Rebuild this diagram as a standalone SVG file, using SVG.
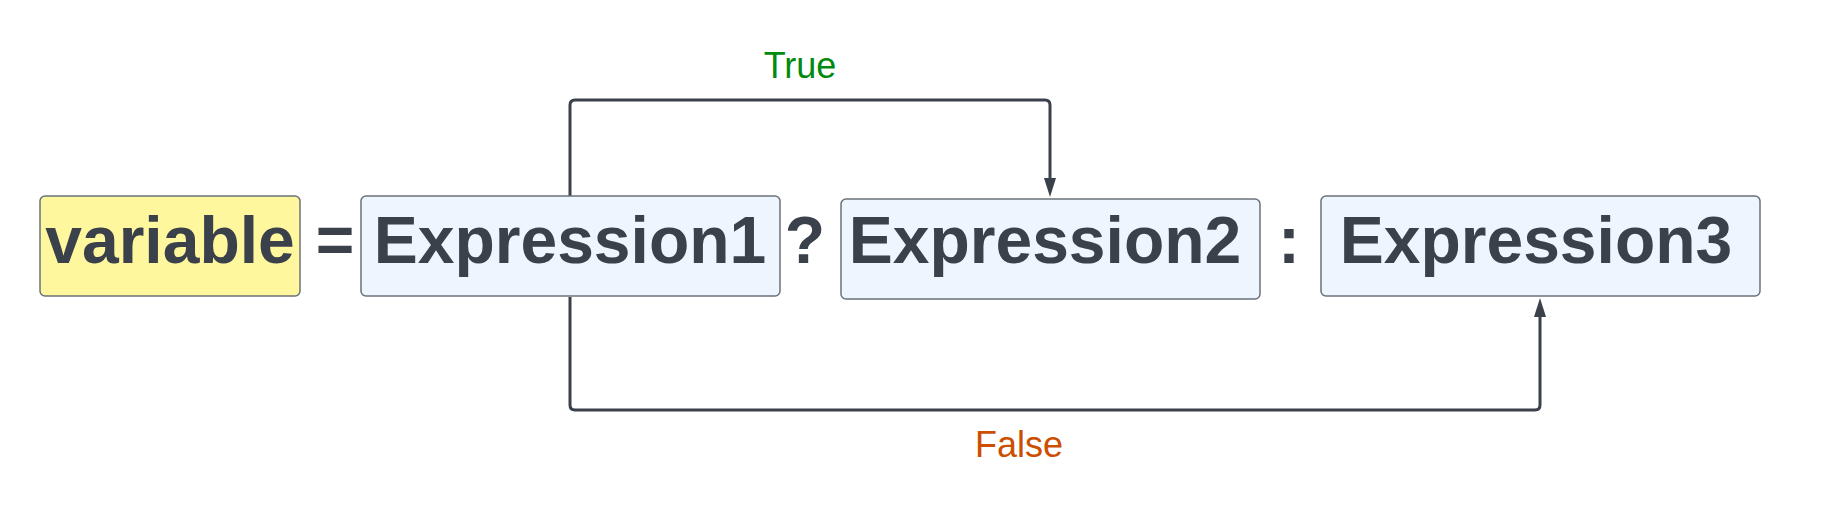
<svg xmlns="http://www.w3.org/2000/svg" width="1840" height="520" viewBox="0 0 1840 520">
<style>
.box{fill:#edf5ff;stroke:#6b717b;stroke-width:1.5}
.yel{fill:#fff79e;stroke:#6b717b;stroke-width:1.5}
.big{font-family:"Liberation Sans",Arial,sans-serif;font-weight:bold;font-size:66px;fill:#3a414a;text-anchor:middle}
.lbl{font-family:"Liberation Sans",Arial,sans-serif;font-size:36px;text-anchor:middle}
.conn{fill:none;stroke:#3a414a;stroke-width:3}
</style>
<defs>
<marker id="arr" viewBox="0 0 19 12" refX="12" refY="6" markerWidth="19" markerHeight="12" markerUnits="userSpaceOnUse" orient="auto">
<polygon points="0,0 19,6 0,12" fill="#3a414a"/>
</marker>
</defs>
<g id="connectors">
<path class="conn" d="M570 196 V105 Q570 100 575 100 H1045 Q1050 100 1050 105 V190" marker-end="url(#arr)"/>
<path class="conn" d="M570 297 V405 Q570 410 575 410 H1535 Q1540 410 1540 405 V305" marker-end="url(#arr)"/>
<text class="lbl" x="800" y="78" fill="#008a0e">True</text>
<text class="lbl" x="1019" y="457" fill="#cc4e00">False</text>
</g>
<g id="variable">
<rect class="yel" x="40" y="196" width="260" height="100" rx="5"/>
<text class="big" x="170" y="263">variable</text>
</g>
<g id="eq"><text class="big" x="335" y="263">=</text></g>
<g id="expression1">
<rect class="box" x="361" y="196" width="419" height="100" rx="5"/>
<text class="big" x="570" y="263">Expression1</text>
</g>
<g id="q"><text class="big" x="805" y="263">?</text></g>
<g id="expression2">
<rect class="box" x="841" y="199" width="419" height="100" rx="5"/>
<text class="big" x="1045" y="263">Expression2</text>
</g>
<g id="colon"><text class="big" x="1289" y="263">:</text></g>
<g id="expression3">
<rect class="box" x="1321" y="196" width="439" height="100" rx="5"/>
<text class="big" x="1536" y="263">Expression3</text>
</g>
</svg>
